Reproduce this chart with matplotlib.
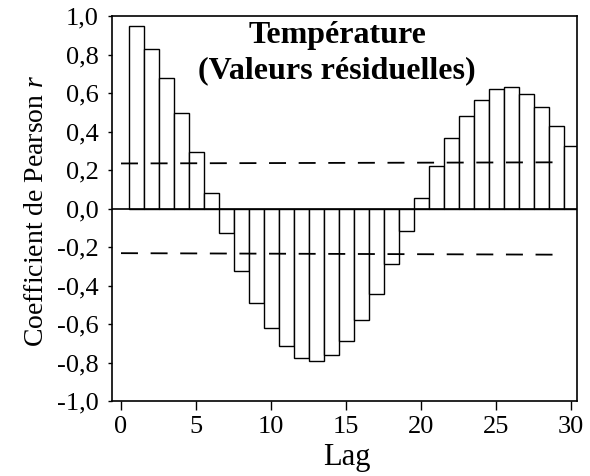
import matplotlib
matplotlib.use("Agg")
import matplotlib.pyplot as plt
from matplotlib.ticker import FuncFormatter

lags = list(range(1, 31))
pearson_r = [0.947, 0.830, 0.677, 0.497, 0.296, 0.081, -0.126, -0.324, -0.490, -0.620,
             -0.715, -0.776, -0.793, -0.760, -0.686, -0.580, -0.445, -0.287, -0.116, 0.055,
             0.220, 0.367, 0.480, 0.566, 0.622, 0.632, 0.596, 0.525, 0.430, 0.324]
ci_lag = [0, 29.6]
ci_upper = [0.234, 0.240]
ci_lower = [-0.232, -0.240]
x_ticks = [0, 5, 10, 15, 20, 25, 30]
y_ticks = [-1.0, -0.8, -0.6, -0.4, -0.2, 0.0, 0.2, 0.4, 0.6, 0.8, 1.0]

plt.rcParams['font.family'] = ['Liberation Serif', 'DejaVu Serif']
plt.rcParams['mathtext.fontset'] = 'custom'
plt.rcParams['mathtext.rm'] = 'Liberation Serif'
plt.rcParams['mathtext.it'] = 'Liberation Serif:italic'

fig = plt.figure(figsize=(5.9, 4.76), dpi=100)
ax = fig.add_axes([112/590, 1 - 401/476, (577-112)/590, (401-16)/476])

ax.bar(lags, pearson_r, width=1.0, color='white', edgecolor='black', linewidth=1.0, zorder=2)
ax.axhline(0, color='black', linewidth=1.2, zorder=3)
ax.plot(ci_lag, ci_upper, color='black', linewidth=1.3, dashes=[9.4, 7.0], zorder=4)
ax.plot(ci_lag, ci_lower, color='black', linewidth=1.3, dashes=[9.4, 7.0], zorder=4)

ax.set_xlim(-0.6, 30.4)
ax.set_ylim(-1.0, 1.0)
ax.set_xticks(x_ticks)
ax.set_yticks(y_ticks)
ax.yaxis.set_major_formatter(FuncFormatter(lambda v, p: f"{v:.1f}".replace('.', ',').replace('-0,0', '0,0')))
ax.tick_params(axis='x', direction='out', length=6.5, width=1, labelsize=19, pad=4.5)
ax.tick_params(axis='y', direction='out', length=3.2, width=1, labelsize=19, pad=6.5)
for s in ax.spines.values():
    s.set_linewidth(1.2)

ax.set_xlabel('Lag', fontsize=22)
ax.xaxis.set_label_coords(0.505, -0.108)
ax.set_ylabel('Coefficient de Pearson $\\it{r}$', fontsize=20)
ax.yaxis.set_label_coords(-0.135, 0.495)

ax.text(0.484, 0.929, 'Température', transform=ax.transAxes,
        ha='center', va='baseline', fontsize=23, fontweight='bold')
ax.text(0.484, 0.838, '(Valeurs résiduelles)', transform=ax.transAxes,
        ha='center', va='baseline', fontsize=23, fontweight='bold')

fig.savefig('out.png', dpi=100)
